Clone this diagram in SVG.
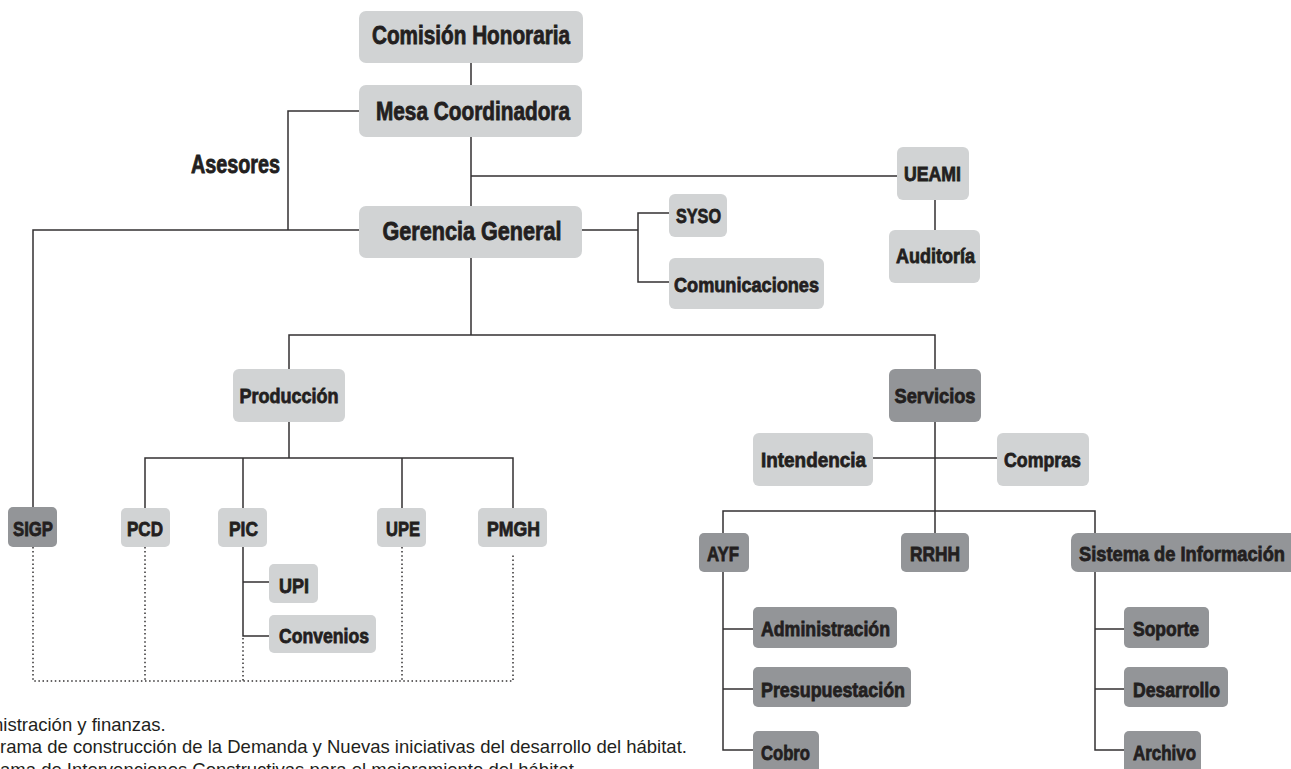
<svg xmlns="http://www.w3.org/2000/svg" width="1291" height="769" viewBox="0 0 1291 769">
<style>
.lt{fill:#d1d3d4}
.dk{fill:#939598}
.lb{font-family:"Liberation Sans",Arial,sans-serif;font-weight:bold;fill:#231f20;stroke:#231f20;stroke-width:0.8;text-anchor:middle}
.big{font-size:25px}
.sm{font-size:21px}
.ln{fill:none;stroke:#333132;stroke-width:1.5}
.dot{fill:none;stroke:#333132;stroke-width:1.5;stroke-dasharray:1.5 2.6}
.note{font-family:"Liberation Sans",Arial,sans-serif;font-size:18.5px;fill:#231f20}
</style>
<rect width="1291" height="769" fill="#ffffff"/>
<g id="connectors">
<path class="ln" d="M471 63V85M471 137V206M471 176H897M935 200V230"/>
<path class="ln" d="M359 111H288V230M33 507V230H359"/>
<path class="ln" d="M582 230H638M669 213H638V282H669"/>
<path class="ln" d="M471 258V335M289 369V335H935V369"/>
<path class="ln" d="M289 422V458M145 508V458H513V508M243 458V508M402 458V508"/>
<path class="ln" d="M243 547V636H269M243 582H269"/>
<path class="dot" d="M33 547V681H513V553M145 547V681M243 638V681M402 547V681"/>
<path class="ln" d="M935 422V533M873 458H997M723 533V511H1095V533"/>
<path class="ln" d="M723 572V750H753M723 629H753M723 689H753"/>
<path class="ln" d="M1095 572V750H1124M1095 629H1124M1095 689H1124"/>
</g>
<g id="comision"><rect class="lt" x="359" y="11" width="224" height="52" rx="7"/><text class="lb big" x="471" y="44" textLength="198" lengthAdjust="spacingAndGlyphs">Comisión Honoraria</text></g>
<g id="mesa"><rect class="lt" x="359" y="85" width="223" height="52" rx="7"/><text class="lb big" x="473" y="120" textLength="194" lengthAdjust="spacingAndGlyphs">Mesa Coordinadora</text></g>
<g id="asesores"><text class="lb big" x="235.5" y="173" textLength="89" lengthAdjust="spacingAndGlyphs">Asesores</text></g>
<g id="gerencia"><rect class="lt" x="359" y="206" width="223" height="52" rx="7"/><text class="lb big" x="472" y="240" textLength="179" lengthAdjust="spacingAndGlyphs">Gerencia General</text></g>
<g id="ueami"><rect class="lt" x="897" y="147" width="72" height="53" rx="6"/><text class="lb sm" x="932.5" y="181" textLength="57" lengthAdjust="spacingAndGlyphs">UEAMI</text></g>
<g id="auditoria"><rect class="lt" x="889" y="230" width="91" height="53" rx="6"/><text class="lb sm" x="935.5" y="263" textLength="79" lengthAdjust="spacingAndGlyphs">Auditoría</text></g>
<g id="syso"><rect class="lt" x="669" y="194" width="58" height="43" rx="6"/><text class="lb sm" x="698.5" y="223" textLength="45" lengthAdjust="spacingAndGlyphs">SYSO</text></g>
<g id="comunicaciones"><rect class="lt" x="669" y="258" width="155" height="51" rx="6"/><text class="lb sm" x="746.5" y="292" textLength="145" lengthAdjust="spacingAndGlyphs">Comunicaciones</text></g>
<g id="produccion"><rect class="lt" x="233" y="369" width="112" height="53" rx="6"/><text class="lb sm" x="289" y="403" textLength="99" lengthAdjust="spacingAndGlyphs">Producción</text></g>
<g id="servicios"><rect class="dk" x="889" y="369" width="92" height="53" rx="6"/><text class="lb sm" x="935" y="403" textLength="81" lengthAdjust="spacingAndGlyphs">Servicios</text></g>
<g id="intendencia"><rect class="lt" x="753" y="433" width="120" height="53" rx="6"/><text class="lb sm" x="813.5" y="467" textLength="105" lengthAdjust="spacingAndGlyphs">Intendencia</text></g>
<g id="compras"><rect class="lt" x="997" y="433" width="92" height="53" rx="6"/><text class="lb sm" x="1042.5" y="467" textLength="77" lengthAdjust="spacingAndGlyphs">Compras</text></g>
<g id="sigp"><rect class="dk" x="8" y="507" width="49" height="40" rx="5"/><text class="lb sm" x="33" y="536" textLength="40" lengthAdjust="spacingAndGlyphs">SIGP</text></g>
<g id="pcd"><rect class="lt" x="121" y="508" width="49" height="39" rx="5"/><text class="lb sm" x="145" y="536" textLength="36" lengthAdjust="spacingAndGlyphs">PCD</text></g>
<g id="pic"><rect class="lt" x="218" y="508" width="49" height="39" rx="5"/><text class="lb sm" x="243.5" y="536" textLength="29" lengthAdjust="spacingAndGlyphs">PIC</text></g>
<g id="upe"><rect class="lt" x="377" y="508" width="49" height="39" rx="5"/><text class="lb sm" x="403" y="536" textLength="34" lengthAdjust="spacingAndGlyphs">UPE</text></g>
<g id="pmgh"><rect class="lt" x="478" y="508" width="69" height="39" rx="5"/><text class="lb sm" x="513.5" y="536" textLength="53" lengthAdjust="spacingAndGlyphs">PMGH</text></g>
<g id="upi"><rect class="lt" x="269" y="564" width="49" height="39" rx="5"/><text class="lb sm" x="294" y="593" textLength="30" lengthAdjust="spacingAndGlyphs">UPI</text></g>
<g id="convenios"><rect class="lt" x="269" y="615" width="107" height="38" rx="5"/><text class="lb sm" x="324" y="643" textLength="90" lengthAdjust="spacingAndGlyphs">Convenios</text></g>
<g id="ayf"><rect class="dk" x="699" y="533" width="50" height="39" rx="5"/><text class="lb sm" x="723" y="561" textLength="32" lengthAdjust="spacingAndGlyphs">AYF</text></g>
<g id="rrhh"><rect class="dk" x="901" y="533" width="68" height="39" rx="5"/><text class="lb sm" x="935" y="561" textLength="50" lengthAdjust="spacingAndGlyphs">RRHH</text></g>
<g id="sistema"><rect class="dk" x="1071" y="533" width="226" height="39" rx="7"/><text class="lb sm" x="1182" y="561" textLength="206" lengthAdjust="spacingAndGlyphs">Sistema de Información</text></g>
<g id="administracion"><rect class="dk" x="753" y="607" width="144" height="41" rx="5"/><text class="lb sm" x="825.5" y="636" textLength="129" lengthAdjust="spacingAndGlyphs">Administración</text></g>
<g id="presupuestacion"><rect class="dk" x="753" y="667" width="158" height="40" rx="5"/><text class="lb sm" x="833" y="697" textLength="144" lengthAdjust="spacingAndGlyphs">Presupuestación</text></g>
<g id="cobro"><rect class="dk" x="753" y="731" width="66" height="45" rx="5"/><text class="lb sm" x="785.5" y="760" textLength="49" lengthAdjust="spacingAndGlyphs">Cobro</text></g>
<g id="soporte"><rect class="dk" x="1124" y="607" width="85" height="41" rx="5"/><text class="lb sm" x="1166" y="636" textLength="66" lengthAdjust="spacingAndGlyphs">Soporte</text></g>
<g id="desarrollo"><rect class="dk" x="1124" y="667" width="104" height="40" rx="5"/><text class="lb sm" x="1176.5" y="697" textLength="87" lengthAdjust="spacingAndGlyphs">Desarrollo</text></g>
<g id="archivo"><rect class="dk" x="1124" y="731" width="77" height="45" rx="5"/><text class="lb sm" x="1164.5" y="760" textLength="63" lengthAdjust="spacingAndGlyphs">Archivo</text></g>
<g id="notes">
<text class="note" x="-7" y="731">nistración y finanzas.</text>
<text class="note" x="0" y="753">rama de construcción de la Demanda y Nuevas iniciativas del desarrollo del hábitat.</text>
<text class="note" x="0" y="776">ama de Intervenciones Constructivas para el mejoramiento del hábitat.</text>
</g>
</svg>
